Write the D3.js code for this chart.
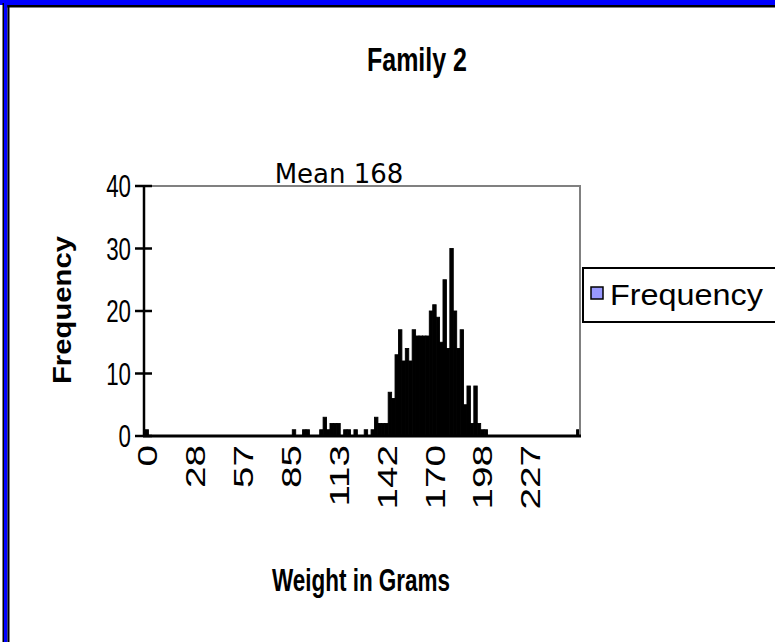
<!DOCTYPE html>
<html>
<head>
<meta charset="utf-8">
<title>Family 2</title>
<style>
  body { margin: 0; background: #fff; }
  svg { display: block; }
  text { font-family: "Liberation Sans", Arial, sans-serif; fill: #000; }
</style>
</head>
<body>
<div id="chart"></div>
<script src="https://cdn.jsdelivr.net/npm/d3@7"></script>
<script>
// counts per weight bin (bins 0..255 g, 127 categories)
var freq = [
  1, 0, 0, 0, 0, 0, 0, 0, 0, 0,
  0, 0, 0, 0, 0, 0, 0, 0, 0, 0,
  0, 0, 0, 0, 0, 0, 0, 0, 0, 0,
  0, 0, 0, 0, 0, 0, 0, 0, 0, 0,
  0, 0, 0, 1, 0, 0, 1, 1, 0, 0,
  0, 1, 3, 1, 2, 2, 2, 0, 1, 1,
  0, 1, 0, 0, 1, 0, 1, 3, 2, 2,
  2, 7, 6, 13, 17, 12, 14, 12, 17, 16,
  16, 16, 16, 20, 21, 19, 15, 25, 14, 30,
  20, 14, 17, 5, 8, 2, 8, 2, 1, 1,
  0, 0, 0, 0, 0, 0, 0, 0, 0, 0,
  0, 0, 0, 0, 0, 0, 0, 0, 0, 0,
  0, 0, 0, 0, 0, 0, 1
];
var tickLabels = ["0", "28", "57", "85", "113", "142", "170", "198", "227"];
var tickEvery = 14;
var yTicks = [0, 10, 20, 30, 40];
var seriesName = "Frequency";

var W = 775, H = 642;
var pLeft = 145, pRight = 580, pTop = 186, pBottom = 436;

var svg = d3.select("#chart").append("svg")
  .attr("width", W)
  .attr("height", H);

var x = d3.scaleBand()
  .domain(d3.range(freq.length))
  .range([pLeft, pRight])
  .padding(0);

var y = d3.scaleLinear()
  .domain([0, 40])
  .range([pBottom, pTop]);

// bars
var used = d3.range(freq.length).filter(function (i) { return freq[i] > 0; });
svg.append("g").selectAll("rect")
  .data(used)
  .enter().append("rect")
  .attr("x", function (i) { return x(i); })
  .attr("y", function (i) { return y(freq[i]); })
  .attr("width", x.bandwidth())
  .attr("height", function (i) { return pBottom - y(freq[i]); })
  .style("fill", "#000")
  .style("stroke", "#000")
  .style("stroke-width", 0.9);

// plot frame: grey top/right, black axes
svg.append("path")
  .attr("d", "M" + pLeft + "," + pTop + "H" + pRight + "V" + pBottom)
  .style("fill", "none").style("stroke", "#808080").style("stroke-width", 2);

svg.append("line")
  .attr("x1", pLeft - 1).attr("x2", pLeft - 1).attr("y1", pTop).attr("y2", pBottom)
  .style("stroke", "#000").style("stroke-width", 2.5);
svg.append("line")
  .attr("x1", pLeft - 2).attr("x2", pRight + 1).attr("y1", pBottom).attr("y2", pBottom)
  .style("stroke", "#000").style("stroke-width", 3);

// y ticks (crossing) + labels
var yt = svg.append("g");
yt.selectAll("line").data(yTicks).enter().append("line")
  .attr("x1", pLeft - 10).attr("x2", pLeft + 7)
  .attr("y1", y).attr("y2", y)
  .style("stroke", "#000").style("stroke-width", 2.5);
yt.selectAll("text").data(yTicks).enter().append("text")
  .attr("transform", function (d) { return "translate(131," + (y(d) + 11) + ") scale(0.72,1)"; })
  .attr("text-anchor", "end")
  .style("font-size", "31px")
  .text(function (d) { return d; });

// x tick labels, rotated
svg.append("g").selectAll("text")
  .data(tickLabels)
  .enter().append("text")
  .attr("transform", function (d, i) {
    var cx = x(i * tickEvery) + x.bandwidth() / 2;
    return "translate(" + cx + ",445) rotate(-90) scale(1.38,1)";
  })
  .attr("dy", "0.36em")
  .attr("text-anchor", "end")
  .style("font-size", "28px")
  .text(function (d) { return d; });

// titles
svg.append("text")
  .attr("x", 417).attr("y", 71)
  .attr("text-anchor", "middle")
  .attr("textLength", 100).attr("lengthAdjust", "spacingAndGlyphs")
  .style("font-size", "34px").style("font-weight", "bold")
  .text("Family 2");

svg.append("text")
  .attr("x", 339).attr("y", 183)
  .attr("text-anchor", "middle")
  .style("font-family", "'DejaVu Sans', Verdana, sans-serif")
  .style("font-size", "26px")
  .text("Mean 168");

svg.append("text")
  .attr("transform", "translate(71,310) rotate(-90)")
  .attr("text-anchor", "middle")
  .attr("textLength", 148).attr("lengthAdjust", "spacingAndGlyphs")
  .style("font-size", "26px").style("font-weight", "bold")
  .text("Frequency");

svg.append("text")
  .attr("x", 361).attr("y", 591)
  .attr("text-anchor", "middle")
  .attr("textLength", 178).attr("lengthAdjust", "spacingAndGlyphs")
  .style("font-size", "32px").style("font-weight", "bold")
  .text("Weight in Grams");

// legend
var lg = svg.append("g");
lg.append("rect")
  .attr("x", 583).attr("y", 268).attr("width", 220).attr("height", 54)
  .style("fill", "#fff").style("stroke", "#000").style("stroke-width", 2);
lg.append("rect")
  .attr("x", 591).attr("y", 287).attr("width", 12).attr("height", 12)
  .style("fill", "#9999ff").style("stroke", "#000").style("stroke-width", 1.5);
lg.append("text")
  .attr("x", 610).attr("y", 305)
  .attr("textLength", 153).attr("lengthAdjust", "spacingAndGlyphs")
  .style("font-size", "29px")
  .text(seriesName);

// outer border (blue with black edges), clipped at right and bottom
svg.append("rect").attr("x", 0).attr("y", 0).attr("width", W).attr("height", 5).style("fill", "#0000ff");
svg.append("rect").attr("x", 7).attr("y", 5).attr("width", W).attr("height", 2.5).style("fill", "#000");
svg.append("rect").attr("x", 2.5).attr("y", 3).attr("width", 1.5).attr("height", H).style("fill", "#000");
svg.append("rect").attr("x", 4).attr("y", 0).attr("width", 3.5).attr("height", H).style("fill", "#0000ff");
svg.append("rect").attr("x", 7.5).attr("y", 5).attr("width", 2).attr("height", H).style("fill", "#000");
</script>
</body>
</html>
